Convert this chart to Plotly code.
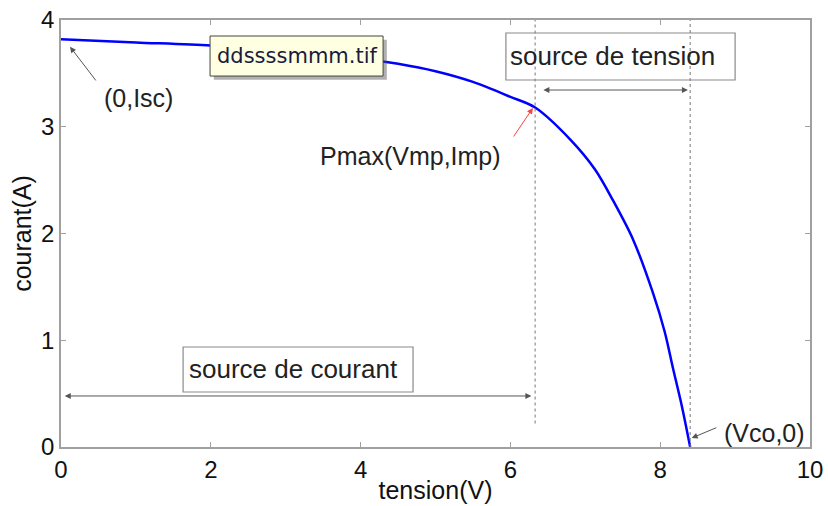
import plotly.graph_objects as go

# I-V curve of the PV module
tension = [0.0, 1.0, 2.0, 3.0, 4.0, 4.5, 5.0, 5.5, 6.0, 6.33, 6.8, 7.13, 7.37, 7.64, 7.9, 8.06, 8.17, 8.29, 8.4]
courant = [3.82, 3.79, 3.76, 3.71, 3.64, 3.59, 3.52, 3.42, 3.28, 3.18, 2.88, 2.60, 2.31, 1.94, 1.45, 1.08, 0.74, 0.38, 0.0]

Vmp, Imp = 6.33, 3.17
Vco = 8.40

x_ticks = [0, 2, 4, 6, 8, 10]
y_ticks = [0, 1, 2, 3, 4]

FONT = "Liberation Sans, Arial, sans-serif"
GREY = "#555555"

fig = go.Figure()
fig.add_trace(go.Scatter(x=tension, y=courant, mode="lines",
                         line=dict(color="#0000ff", width=2.5, shape="spline", smoothing=0.9),
                         hoverinfo="skip", showlegend=False))

shapes = [
    dict(type="line", x0=Vmp, x1=Vmp, y0=0.22, y1=4, line=dict(color="#777", width=1, dash="dot")),
    dict(type="line", x0=Vco, x1=Vco, y0=0, y1=4, line=dict(color="#777", width=1, dash="dot")),
    dict(type="rect", x0=5.94, x1=9.0, y0=3.438, y1=3.878, line=dict(color="#8a8a8a", width=1.2)),
    dict(type="rect", x0=1.63, x1=4.70, y0=0.515, y1=0.937, line=dict(color="#8a8a8a", width=1.2)),
    dict(type="rect", x0=2.04, x1=4.35, y0=3.44, y1=3.815, line=dict(width=0), fillcolor="rgba(80,80,80,0.45)"),
    dict(type="rect", x0=1.99, x1=4.30, y0=3.475, y1=3.85, line=dict(color="#444", width=1), fillcolor="#ffffe1"),
]

ann = []
def arrow(x, y, ax, ay, color=GREY, both=False, width=1):
    d = dict(x=x, y=y, ax=ax, ay=ay, xref="x", yref="y", axref="x", ayref="y",
             text="", showarrow=True, arrowhead=2, arrowsize=1.2, arrowwidth=width,
             arrowcolor=color)
    if both:
        d["arrowside"] = "end+start"
        d["startarrowhead"] = 2
        d["startarrowsize"] = 1.2
    ann.append(d)

def label(x, y, text, size=25, xanchor="center", font=FONT, color="#222"):
    ann.append(dict(x=x, y=y, xref="x", yref="y", text=text, showarrow=False,
                    xanchor=xanchor, yanchor="middle",
                    font=dict(family=font, size=size, color=color)))

arrow(0.12, 3.75, 0.48, 3.42)
label(1.04, 3.27, "(0,Isc)")
arrow(6.30, 3.176, 6.03, 2.895, color="#ff4040")
label(4.66, 2.73, "Pmax(Vmp,Imp)")
arrow(8.42, 0.084, 8.77, 0.187)
label(9.39, 0.13, "(Vco,0)")
label(5.97, 3.66, "source de tension", size=26, xanchor="left")
arrow(8.37, 3.344, 6.42, 3.344, both=True)
label(1.68, 0.735, "source de courant", size=26, xanchor="left")
arrow(6.28, 0.478, 0.03, 0.478, both=True)
label(2.05, 3.665, "ddssssmmm.tif", size=21, xanchor="left",
      font="DejaVu Sans, Verdana, sans-serif", color="#1a1a40")

axis_common = dict(showline=True, linecolor="#a0a0a0", linewidth=1.5, mirror="ticks",
                   ticks="inside", ticklen=5, tickcolor="#a0a0a0", tickwidth=1.2,
                   showgrid=False, zeroline=False, automargin=False,
                   tickfont=dict(family=FONT, size=24, color="#111"))

fig.update_layout(
    width=828, height=506,
    margin=dict(l=61, r=18, t=20, b=59),
    paper_bgcolor="white", plot_bgcolor="white",
    shapes=shapes, annotations=ann,
    xaxis=dict(range=[0, 10], tickvals=x_ticks, ticktext=[str(v) for v in x_ticks],
               title=dict(text="tension(V)", font=dict(family=FONT, size=25, color="#111"), standoff=0),
               **axis_common),
    yaxis=dict(range=[0, 4], tickvals=y_ticks, ticktext=[str(v) for v in y_ticks],
               title=dict(text="courant(A)", font=dict(family=FONT, size=25, color="#111"), standoff=2),
               **axis_common),
)

fig.write_html("out.html")
